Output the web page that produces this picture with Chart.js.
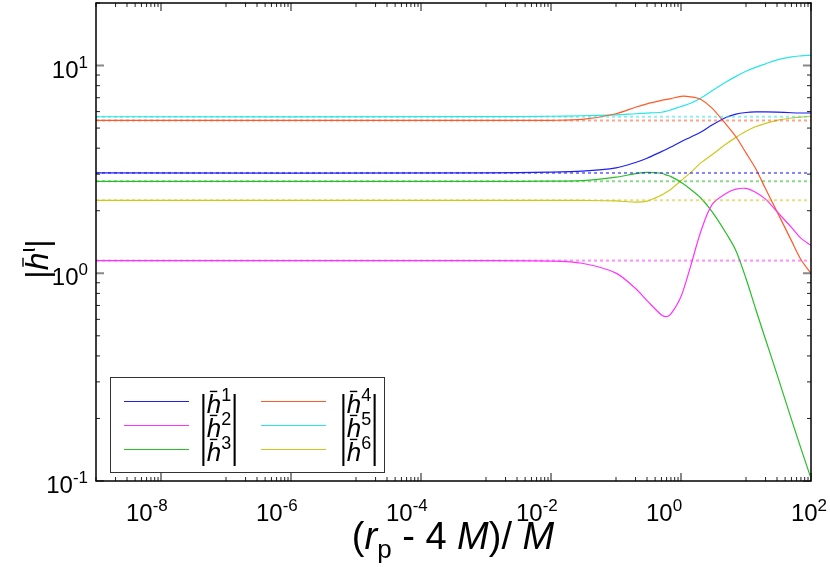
<!DOCTYPE html>
<html>
<head>
<meta charset="utf-8">
<script src="https://cdn.jsdelivr.net/npm/chart.js@4/dist/chart.umd.min.js"></script>
<style>
  html, body { margin: 0; padding: 0; background: #fff; }
  canvas { display: block; }
</style>
</head>
<body>
<canvas id="chart" width="830" height="567"></canvas>
<script>
// sample positions (r_p - 4M)/M
const xs = [1e-9, 1e-3, 1e-2, 0.03, 0.1, 0.2, 0.3, 0.5, 0.6, 0.7, 1, 1.4, 2, 3, 5, 7, 10, 14, 20, 30, 50, 70, 100];

// |h^i| for i = 1..6
const h1 = [3.04, 3.04, 3.066, 3.10, 3.216, 3.414, 3.58, 3.85, 3.955, 4.05, 4.30, 4.52, 4.77, 5.17, 5.64, 5.84, 5.94, 5.98, 5.98, 5.965, 5.925, 5.91, 5.91];
const h2 = [1.151, 1.151, 1.145, 1.117, 1.002, 0.844, 0.739, 0.630, 0.619, 0.637, 0.773, 1.077, 1.576, 2.14, 2.43, 2.54, 2.56, 2.457, 2.274, 1.98, 1.664, 1.476, 1.359];
const h3 = [2.77, 2.77, 2.776, 2.79, 2.90, 3.02, 3.06, 3.03, 2.97, 2.92, 2.745, 2.54, 2.31, 1.98, 1.55, 1.285, 0.943, 0.677, 0.48, 0.326, 0.198, 0.1436, 0.103];
const h4 = [5.44, 5.44, 5.45, 5.50, 5.86, 6.30, 6.54, 6.79, 6.87, 6.93, 7.11, 7.07, 6.88, 6.24, 5.18, 4.54, 3.80, 3.20, 2.55, 1.98, 1.436, 1.164, 0.997];
const h5 = [5.667, 5.67, 5.70, 5.73, 5.79, 5.86, 5.90, 5.96, 6.03, 6.12, 6.35, 6.58, 6.96, 7.56, 8.35, 8.87, 9.38, 9.80, 10.19, 10.65, 11.01, 11.13, 11.22];
const h6 = [2.244, 2.244, 2.244, 2.241, 2.231, 2.20, 2.224, 2.377, 2.46, 2.54, 2.79, 3.05, 3.39, 3.72, 4.20, 4.51, 4.83, 5.07, 5.27, 5.45, 5.59, 5.65, 5.70];

// limiting (r_p -> 4M) values, drawn dashed
const h1Limit = 3.04;
const h2Limit = 1.151;
const h3Limit = 2.77;
const h4Limit = 5.44;
const h5Limit = 5.667;
const h6Limit = 2.244;

const xTickExps = [-8, -6, -4, -2, 0, 2];
const yTickExps = [-1, 0, 1];

const series = [
  ['1', h1, h1Limit, '30,30,245'],
  ['2', h2, h2Limit, '255,50,255'],
  ['3', h3, h3Limit, '40,190,40'],
  ['4', h4, h4Limit, '255,90,40'],
  ['5', h5, h5Limit, '40,230,230'],
  ['6', h6, h6Limit, '205,200,30'],
];

const FONT = '"Liberation Sans", Arial, sans-serif';

function runsWidth(ctx, runs) {
  let w = 0;
  runs.forEach((r) => {
    ctx.font = `${r.italic ? 'italic ' : ''}${r.size}px ${FONT}`;
    w += ctx.measureText(r.t).width;
  });
  return w;
}

function drawRuns(ctx, runs, x, y) {
  let cx = x;
  runs.forEach((r) => {
    ctx.font = `${r.italic ? 'italic ' : ''}${r.size}px ${FONT}`;
    ctx.fillText(r.t, cx, y + (r.dy || 0));
    const w = ctx.measureText(r.t).width;
    if (r.bar) {
      ctx.save();
      ctx.lineWidth = 1.4;
      ctx.strokeStyle = '#000';
      ctx.beginPath();
      ctx.moveTo(cx + r.bar[0], y + r.bar[2]);
      ctx.lineTo(cx + r.bar[1], y + r.bar[2]);
      ctx.stroke();
      ctx.restore();
    }
    cx += w;
  });
}

function hLabel(sup, size) {
  const s = size / 21;
  return [
    { t: '|', size },
    { t: 'h', size, italic: true, bar: [2.5 * s, 8.5 * s, -17 * s] },
    { t: sup, size: Math.round(size * 0.7), dy: -9 * s },
    { t: '|', size },
  ];
}

const framePlugin = {
  id: 'frame',
  afterDraw(chart) {
    const { ctx, chartArea: a, scales } = chart;
    const sx = scales.x;
    const sy = scales.y;
    ctx.save();
    ctx.textAlign = 'left';
    ctx.textBaseline = 'alphabetic';
    ctx.fillStyle = '#000';

    // ticks (inward, mirrored)
    const tick = (isX, px, len, color, width) => {
      ctx.strokeStyle = color;
      ctx.lineWidth = width;
      ctx.beginPath();
      if (isX) {
        ctx.moveTo(px, a.bottom); ctx.lineTo(px, a.bottom - len);
        ctx.moveTo(px, a.top); ctx.lineTo(px, a.top + len);
      } else {
        ctx.moveTo(a.left, px); ctx.lineTo(a.left + len, px);
        ctx.moveTo(a.right, px); ctx.lineTo(a.right - len, px);
      }
      ctx.stroke();
    };
    for (let e = -9; e <= 2; e += 1) {
      const major = e % 2 === 0;
      tick(true, sx.getPixelForValue(Math.pow(10, e)), major ? 8 : 4, major ? '#888' : '#222', major ? 2 : 1);
      if (!major) {
        for (let k = 2; k <= 9; k += 1) {
          tick(true, sx.getPixelForValue(k * Math.pow(10, e)), 4, '#222', 1);
        }
      }
    }
    for (let e = -1; e <= 1; e += 1) {
      tick(false, sy.getPixelForValue(Math.pow(10, e)), 8, '#888', 2);
      for (let k = 2; k <= 9; k += 1) {
        const v = k * Math.pow(10, e);
        if (v <= 20) tick(false, sy.getPixelForValue(v), 4, '#222', 1);
      }
    }

    // border
    ctx.strokeStyle = '#000';
    ctx.lineWidth = 1.5;
    ctx.strokeRect(a.left, a.top, a.right - a.left, a.bottom - a.top);

    // x tick labels
    xTickExps.forEach((e, i) => {
      const px = sx.getPixelForValue(Math.pow(10, e));
      const runs = [{ t: '10', size: 24 }, { t: String(e), size: 17, dy: -10 }];
      const w = runsWidth(ctx, runs);
      const left = i === xTickExps.length - 1 ? px - w / 2 - 2 : px - 35;
      drawRuns(ctx, runs, left, 521);
    });

    // y tick labels
    yTickExps.forEach((e) => {
      const py = sy.getPixelForValue(Math.pow(10, e));
      const runs = [{ t: '10', size: 24 }, { t: String(e), size: 17, dy: -10 }];
      const w = runsWidth(ctx, runs);
      drawRuns(ctx, runs, 88 - w, py + 12);
    });

    // x title
    const xt = [
      { t: '(', size: 38 },
      { t: 'r', size: 38, italic: true },
      { t: 'p', size: 26, dy: 9 },
      { t: ' - 4 ', size: 38 },
      { t: 'M', size: 38, italic: true },
      { t: ')/ ', size: 38 },
      { t: 'M', size: 38, italic: true },
    ];
    drawRuns(ctx, xt, 453 - runsWidth(ctx, xt) / 2, 549);

    // y title
    ctx.save();
    ctx.translate(48, 259);
    ctx.rotate(-Math.PI / 2);
    const yt = [
      { t: '|', size: 32 },
      { t: 'h', size: 32, italic: true, bar: [3.5, 12.5, -25] },
      { t: 'ι', size: 22, dy: -13 },
      { t: '|', size: 32 },
    ];
    drawRuns(ctx, yt, -runsWidth(ctx, yt) / 2, 0);
    ctx.restore();

    // legend
    ctx.fillStyle = '#fff';
    ctx.fillRect(110, 377, 274, 95);
    ctx.strokeStyle = '#333';
    ctx.lineWidth = 1;
    ctx.strokeRect(110.5, 377.5, 274, 95);
    series.forEach(([sup, , , rgb], i) => {
      const col = Math.floor(i / 3);
      const row = i % 3;
      const ly = 401.5 + row * 24;
      const lx = col === 0 ? 124 : 261;
      ctx.strokeStyle = `rgb(${rgb})`;
      ctx.lineWidth = 1.2;
      ctx.beginPath();
      ctx.moveTo(lx, ly);
      ctx.lineTo(lx + 65, ly);
      ctx.stroke();
      ctx.fillStyle = '#000';
      drawRuns(ctx, hLabel(sup, 26), col === 0 ? 200 : 340, ly + 11);
    });
    ctx.restore();
  },
};

const datasets = [];
series.forEach(([sup, vals, , rgb]) => {
  datasets.push({
    label: `|h${sup}|`,
    data: xs.map((x, i) => ({ x, y: vals[i] })),
    borderColor: `rgb(${rgb})`,
    borderWidth: 1.2,
    tension: 0.3,
    pointRadius: 0,
    fill: false,
    order: 2,
  });
});
series.forEach(([sup, , lim, rgb]) => {
  datasets.push({
    label: `limit ${sup}`,
    data: [{ x: xs[0], y: lim }, { x: xs[xs.length - 1], y: lim }],
    borderColor: `rgba(${rgb},0.55)`,
    borderWidth: 2,
    borderDash: [3, 3],
    pointRadius: 0,
    fill: false,
    order: 1,
  });
});

new Chart(document.getElementById('chart'), {
  type: 'line',
  data: { datasets },
  options: {
    responsive: false,
    animation: false,
    devicePixelRatio: 1,
    layout: { padding: { left: 96, top: 3, right: 19, bottom: 86 } },
    scales: {
      x: { type: 'logarithmic', min: 1e-9, max: 100, display: false },
      y: { type: 'logarithmic', min: 0.1, max: 20, display: false },
    },
    plugins: { legend: { display: false }, tooltip: { enabled: false } },
  },
  plugins: [framePlugin],
});
</script>
</body>
</html>
